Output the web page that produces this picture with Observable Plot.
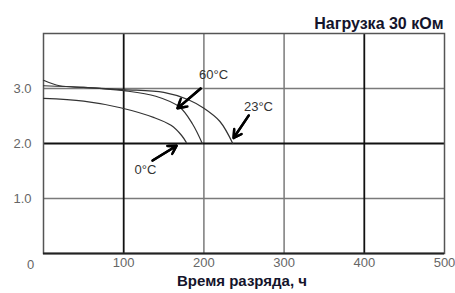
<!DOCTYPE html>
<html>
<head>
<meta charset="utf-8">
<script src="https://cdn.jsdelivr.net/npm/d3@7"></script>
<script src="https://cdn.jsdelivr.net/npm/@observablehq/plot@0.6"></script>
<style>
  body { margin: 0; background: #fff; }
  #chart svg { display: block; }
</style>
</head>
<body>
<div id="chart"></div>
<script>
// Discharge curves (time, h -> voltage, V)
const x23 = [0, 20, 50, 100, 150, 180, 200, 220, 236];
const y23 = [3.15, 3.05, 3.02, 2.98, 2.93, 2.8, 2.64, 2.4, 2.0];
const x60 = [0, 50, 100, 140, 170, 186, 198];
const y60 = [3.05, 3.02, 2.96, 2.86, 2.66, 2.35, 2.0];
const x0 = [0, 50, 96, 138, 159, 172, 178];
const y0 = [2.82, 2.77, 2.65, 2.47, 2.33, 2.15, 2.02];

const seriesNames = ["23°C", "60°C", "0°C"];
// label positions and arrows (data coordinates)
const labelX = [268, 212, 127];
const labelY = [2.67, 3.24, 1.53];
const arrowX1 = [256, 196, 136];
const arrowY1 = [2.51, 3.0, 1.69];
const arrowX2 = [237, 167, 166];
const arrowY2 = [2.1, 2.64, 1.96];

const xTicks = [100, 200, 300, 400, 500];
const yTicks = [1, 2, 3];
const xGridLight = [200, 300];
const xGridDark = [100, 400];
const yGridLight = [1, 3];
const yGridDark = [2];

const title = "Нагрузка 30 кОм";
const xLabel = "Время разряда, ч";

const lines = [
  ...x23.map((x, i) => ({x, y: y23[i], s: "23"})),
  ...x60.map((x, i) => ({x, y: y60[i], s: "60"})),
  ...x0.map((x, i) => ({x, y: y0[i], s: "0"}))
];
const labels = seriesNames.map((n, i) => ({n, x: labelX[i], y: labelY[i]}));
const arrows = seriesNames.map((n, i) => ({x1: arrowX1[i], y1: arrowY1[i], x2: arrowX2[i], y2: arrowY2[i]}));

const chart = Plot.plot({
  width: 455,
  height: 293,
  marginLeft: 43,
  marginRight: 11,
  marginTop: 33,
  marginBottom: 40,
  style: {fontFamily: "'Liberation Sans', Arial, sans-serif", background: "#fff"},
  x: {domain: [0, 500]},
  y: {domain: [0, 4]},
  marks: [
    Plot.ruleX(xGridLight, {stroke: "#7a7a7a", strokeWidth: 1.5}),
    Plot.ruleY(yGridLight, {stroke: "#7a7a7a", strokeWidth: 1.5}),
    Plot.ruleX(xGridDark, {stroke: "#111", strokeWidth: 1.8}),
    Plot.ruleY(yGridDark, {stroke: "#111", strokeWidth: 1.8}),
    Plot.frame({stroke: "#555", strokeWidth: 1.5}),
    Plot.ruleY([0], {stroke: "#222", strokeWidth: 1.8}),
    Plot.line(lines, {x: "x", y: "y", z: "s", stroke: "#333", strokeWidth: 1.2, curve: "catmull-rom"}),
    Plot.arrow(arrows, {x1: "x1", y1: "y1", x2: "x2", y2: "y2", stroke: "#000", strokeWidth: 2.4, headLength: 9, headAngle: 60}),
    Plot.arrow(arrows, {x1: "x1", y1: "y1", x2: "x2", y2: "y2", stroke: "#000", strokeWidth: 2.4, headLength: 5, headAngle: 60}),
    Plot.text(labels, {x: "x", y: "y", text: "n", fontSize: 13, fill: "#333"}),
    Plot.axisX(xTicks, {tickSize: 0, tickPadding: 4, fontSize: 13, fill: "#666", tickFormat: d => String(d)}),
    Plot.axisY(yTicks, {tickSize: 0, tickPadding: 12, fontSize: 13, fill: "#666", tickFormat: d => d.toFixed(1)}),
    Plot.text([0], {x: 0, y: 0, text: d => String(d), dx: -13, dy: 11, fontSize: 13, fill: "#666"}),
    Plot.text([title], {frameAnchor: "top-right", text: d => d, dy: -16, dx: -1, textAnchor: "end", fontSize: 16, fontWeight: "bold", fill: "#14142b"}),
    Plot.text([xLabel], {frameAnchor: "bottom", text: d => d, dy: 32, dx: -2, fontSize: 15, fontWeight: "bold", fill: "#14142b"})
  ]
});
document.getElementById("chart").appendChild(chart);
</script>
</body>
</html>
